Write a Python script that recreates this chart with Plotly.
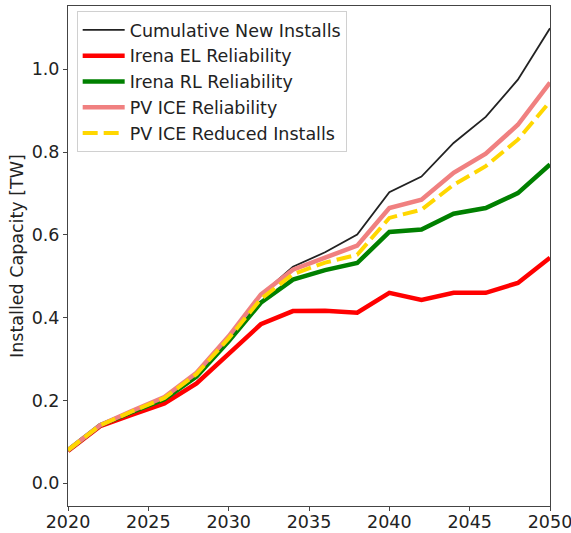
import plotly.graph_objects as go

years = list(range(2020, 2051, 2))
cumulative_new = [0.08, 0.14, 0.175, 0.208, 0.268, 0.355, 0.455, 0.523, 0.558, 0.601,
                  0.703, 0.741, 0.822, 0.885, 0.975, 1.099]
irena_el = [0.078, 0.138, 0.166, 0.193, 0.241, 0.311, 0.384, 0.416, 0.417, 0.412,
            0.46, 0.443, 0.46, 0.46, 0.484, 0.545]
irena_rl = [0.08, 0.14, 0.172, 0.203, 0.258, 0.343, 0.436, 0.492, 0.515, 0.532,
            0.607, 0.613, 0.651, 0.665, 0.701, 0.770]
pvice_rel = [0.08, 0.14, 0.175, 0.208, 0.267, 0.355, 0.456, 0.516, 0.545, 0.574,
             0.665, 0.685, 0.75, 0.796, 0.866, 0.968]
pvice_reduced = [0.08, 0.14, 0.174, 0.206, 0.264, 0.35, 0.445, 0.505, 0.533, 0.552,
                 0.641, 0.661, 0.721, 0.766, 0.83, 0.922]

names = ["Cumulative New Installs", "Irena EL Reliability", "Irena RL Reliability",
         "PV ICE Reliability", "PV ICE Reduced Installs"]

FS = 17.5

fig = go.Figure()
fig.add_trace(go.Scatter(x=years, y=cumulative_new, name=names[0], mode="lines",
                         line=dict(color="#222222", width=1.8)))
fig.add_trace(go.Scatter(x=years, y=irena_el, name=names[1], mode="lines",
                         line=dict(color="#ff0000", width=4.5)))
fig.add_trace(go.Scatter(x=years, y=irena_rl, name=names[2], mode="lines",
                         line=dict(color="#008000", width=4.5)))
fig.add_trace(go.Scatter(x=years, y=pvice_rel, name=names[3], mode="lines",
                         line=dict(color="#f08080", width=4.5)))
fig.add_trace(go.Scatter(x=years, y=pvice_reduced, name=names[4], mode="lines",
                         line=dict(color="#ffd700", width=4, dash="15px,6px")))

axis_common = dict(showgrid=False, zeroline=False, showline=True, linecolor="#444",
                   linewidth=1, mirror=True, ticks="outside", ticklen=4, tickcolor="#444",
                   automargin=False, ticklabeloverflow="allow",
                   tickfont=dict(family="DejaVu Sans", size=FS, color="#222"))

fig.update_layout(
    width=571, height=533,
    margin=dict(l=68, r=21, t=6, b=27),
    plot_bgcolor="white", paper_bgcolor="white",
    font=dict(family="DejaVu Sans", size=FS, color="#222"),
    xaxis=dict(range=[2020, 2050], tickvals=[2020, 2025, 2030, 2035, 2040, 2045, 2050],
               ticklabelstandoff=-4, **axis_common),
    yaxis=dict(range=[-0.055, 1.153], tickvals=[0.0, 0.2, 0.4, 0.6, 0.8, 1.0],
               tickformat=".1f",
               title=dict(text="Installed Capacity [TW]", font=dict(size=FS, family="DejaVu Sans"),
                          standoff=3),
               **axis_common),
    legend=dict(x=0.018, y=0.99, xanchor="left", yanchor="top", itemwidth=42,
                bgcolor="rgba(255,255,255,0.8)", bordercolor="#d0d0d0", borderwidth=1,
                font=dict(family="DejaVu Sans", size=FS, color="#222")),
)

fig.write_html("out.html", config={"displayModeBar": False},
               post_script="document.body.style.margin='0';")
